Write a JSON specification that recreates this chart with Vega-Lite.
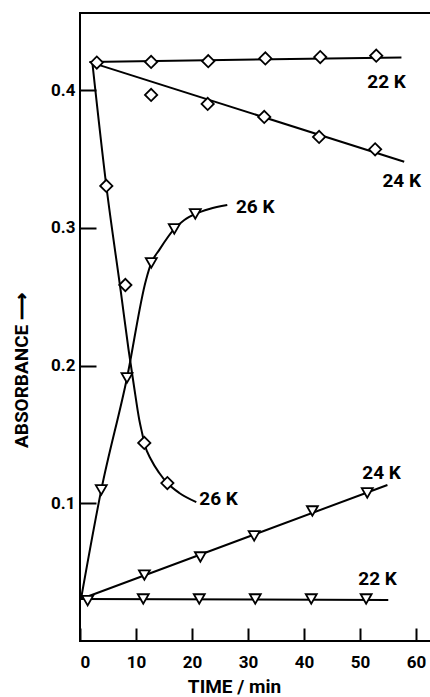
{
  "$schema": "https://vega.github.io/schema/vega-lite/v6.json",
  "autosize": {"type": "none"},
  "padding": {"left": 80, "top": 13, "right": 0, "bottom": 56},
  "width": 351,
  "height": 628,
  "background": "white",
  "config": {
    "view": {"stroke": "black", "strokeWidth": 2},
    "font": "Roboto",
    "axis": {
      "domain": false,
      "grid": false,
      "ticks": true,
      "tickColor": "black",
      "tickWidth": 2,
      "labelColor": "black",
      "labelFont": "Roboto",
      "labelFontWeight": "bold",
      "labelFontSize": 17,
      "titleColor": "black",
      "titleFont": "Roboto",
      "titleFontWeight": "bold",
      "titleFontSize": 19
    }
  },
  "datasets": {
    "fits": [
      {"series": "d22", "k": 1, "t": 1.66, "a": 0.4205},
      {"series": "d22", "k": 2, "t": 57.4, "a": 0.4237},
      {"series": "d24", "k": 1, "t": 2.2, "a": 0.4198},
      {"series": "d24", "k": 2, "t": 57.9, "a": 0.348},
      {"series": "t24", "k": 1, "t": 0.18, "a": 0.0305},
      {"series": "t24", "k": 2, "t": 54.9, "a": 0.1133},
      {"series": "t22", "k": 1, "t": 0.18, "a": 0.0305},
      {"series": "t22", "k": 2, "t": 55.05, "a": 0.0298}
    ],
    "curves": [
      {"series": "d26", "k": 1, "t": 2.2, "a": 0.4201},
      {"series": "d26", "k": 2, "t": 4.7, "a": 0.3304},
      {"series": "d26", "k": 3, "t": 7.32, "a": 0.2527},
      {"series": "d26", "k": 4, "t": 8.68, "a": 0.2113},
      {"series": "d26", "k": 5, "t": 9.61, "a": 0.1859},
      {"series": "d26", "k": 6, "t": 10.59, "a": 0.1605},
      {"series": "d26", "k": 7, "t": 11.13, "a": 0.1503},
      {"series": "d26", "k": 8, "t": 11.48, "a": 0.1438},
      {"series": "d26", "k": 9, "t": 12.73, "a": 0.1314},
      {"series": "d26", "k": 10, "t": 14.16, "a": 0.122},
      {"series": "d26", "k": 11, "t": 15.59, "a": 0.1147},
      {"series": "d26", "k": 12, "t": 17.73, "a": 0.1075},
      {"series": "d26", "k": 13, "t": 20.77, "a": 0.1009},
      {"series": "t26", "k": 1, "t": 0.18, "a": 0.0305},
      {"series": "t26", "k": 2, "t": 3.8, "a": 0.1097},
      {"series": "t26", "k": 3, "t": 8.39, "a": 0.191},
      {"series": "t26", "k": 4, "t": 11.79, "a": 0.2622},
      {"series": "t26", "k": 5, "t": 12.73, "a": 0.2745},
      {"series": "t26", "k": 6, "t": 14.16, "a": 0.284},
      {"series": "t26", "k": 7, "t": 16.84, "a": 0.2992},
      {"series": "t26", "k": 8, "t": 18.63, "a": 0.3057},
      {"series": "t26", "k": 9, "t": 20.59, "a": 0.3101},
      {"series": "t26", "k": 10, "t": 23.09, "a": 0.3137},
      {"series": "t26", "k": 11, "t": 26.3, "a": 0.3166}
    ],
    "points": [
      {"band": "diamond", "temp": "22 K", "t": 3.0, "a": 0.42},
      {"band": "diamond", "temp": "22 K", "t": 12.7, "a": 0.4205},
      {"band": "diamond", "temp": "22 K", "t": 22.9, "a": 0.421},
      {"band": "diamond", "temp": "22 K", "t": 33.1, "a": 0.423},
      {"band": "diamond", "temp": "22 K", "t": 42.9, "a": 0.424},
      {"band": "diamond", "temp": "22 K", "t": 52.9, "a": 0.425},
      {"band": "diamond", "temp": "24 K", "t": 12.7, "a": 0.3965},
      {"band": "diamond", "temp": "24 K", "t": 22.8, "a": 0.39},
      {"band": "diamond", "temp": "24 K", "t": 32.9, "a": 0.3805},
      {"band": "diamond", "temp": "24 K", "t": 42.7, "a": 0.366},
      {"band": "diamond", "temp": "24 K", "t": 52.7, "a": 0.357},
      {"band": "diamond", "temp": "26 K", "t": 4.7, "a": 0.3304},
      {"band": "diamond", "temp": "26 K", "t": 8.1, "a": 0.2585},
      {"band": "diamond", "temp": "26 K", "t": 11.48, "a": 0.1438},
      {"band": "diamond", "temp": "26 K", "t": 15.6, "a": 0.1147},
      {"band": "triangle", "temp": "22 K", "t": 1.36, "a": 0.0293},
      {"band": "triangle", "temp": "22 K", "t": 11.3, "a": 0.0305},
      {"band": "triangle", "temp": "22 K", "t": 21.3, "a": 0.0305},
      {"band": "triangle", "temp": "22 K", "t": 31.3, "a": 0.0305},
      {"band": "triangle", "temp": "22 K", "t": 41.3, "a": 0.0305},
      {"band": "triangle", "temp": "22 K", "t": 51.1, "a": 0.0305},
      {"band": "triangle", "temp": "24 K", "t": 11.5, "a": 0.0479},
      {"band": "triangle", "temp": "24 K", "t": 21.5, "a": 0.061},
      {"band": "triangle", "temp": "24 K", "t": 31.1, "a": 0.0763},
      {"band": "triangle", "temp": "24 K", "t": 41.5, "a": 0.0944},
      {"band": "triangle", "temp": "24 K", "t": 51.3, "a": 0.1075},
      {"band": "triangle", "temp": "26 K", "t": 3.8, "a": 0.1097},
      {"band": "triangle", "temp": "26 K", "t": 8.39, "a": 0.191},
      {"band": "triangle", "temp": "26 K", "t": 12.73, "a": 0.2745},
      {"band": "triangle", "temp": "26 K", "t": 16.84, "a": 0.2992},
      {"band": "triangle", "temp": "26 K", "t": 20.59, "a": 0.3101}
    ],
    "labels": [
      {"text": "22 K", "t": 51.3, "a": 0.4016},
      {"text": "24 K", "t": 54.0, "a": 0.3297},
      {"text": "26 K", "t": 27.85, "a": 0.3108},
      {"text": "26 K", "t": 21.3, "a": 0.0988},
      {"text": "24 K", "t": 50.4, "a": 0.1176},
      {"text": "22 K", "t": 49.7, "a": 0.0407}
    ]
  },
  "encoding": {
    "x": {
      "field": "t",
      "type": "quantitative",
      "scale": {"domain": [0, 62.68], "nice": false, "zero": false},
      "axis": {
        "values": [0, 10, 20, 30, 40, 50, 60],
        "tickSize": -13,
        "labelPadding": 26,
        "title": "TIME / min",
        "titleX": 154,
        "titleY": 51,
        "titleBaseline": "alphabetic"
      }
    },
    "y": {
      "field": "a",
      "type": "quantitative",
      "scale": {"domain": [0, 0.456], "nice": false, "zero": false},
      "axis": {
        "values": [0.1, 0.2, 0.3, 0.4],
        "format": ".1f",
        "tickSize": -16,
        "labelPadding": 21,
        "title": "ABSORBANCE ⟶",
        "titleX": -58.5,
        "titleY": 357,
        "titleBaseline": "middle",
        "titleAngle": -90
      }
    }
  },
  "layer": [
    {
      "data": {"name": "fits"},
      "mark": {"type": "line", "color": "black", "strokeWidth": 2},
      "encoding": {
        "detail": {"field": "series"},
        "order": {"field": "k", "type": "quantitative"}
      }
    },
    {
      "data": {"name": "curves"},
      "mark": {"type": "line", "color": "black", "strokeWidth": 2, "interpolate": "monotone"},
      "encoding": {
        "detail": {"field": "series"},
        "order": {"field": "k", "type": "quantitative"}
      }
    },
    {
      "data": {"name": "points"},
      "mark": {"type": "point", "filled": false, "fill": "white", "fillOpacity": 1, "stroke": "black", "strokeWidth": 1.8, "opacity": 1},
      "encoding": {
        "shape": {
          "field": "band",
          "type": "nominal",
          "scale": {"domain": ["diamond", "triangle"], "range": ["diamond", "triangle-down"]},
          "legend": null
        },
        "size": {
          "field": "band",
          "type": "nominal",
          "scale": {"domain": ["diamond", "triangle"], "range": [150, 120]},
          "legend": null
        }
      }
    },
    {
      "data": {"name": "labels"},
      "mark": {"type": "text", "align": "left", "baseline": "alphabetic", "font": "Roboto", "fontWeight": "bold", "fontSize": 19, "color": "black"},
      "encoding": {
        "text": {"field": "text"}
      }
    }
  ]
}
